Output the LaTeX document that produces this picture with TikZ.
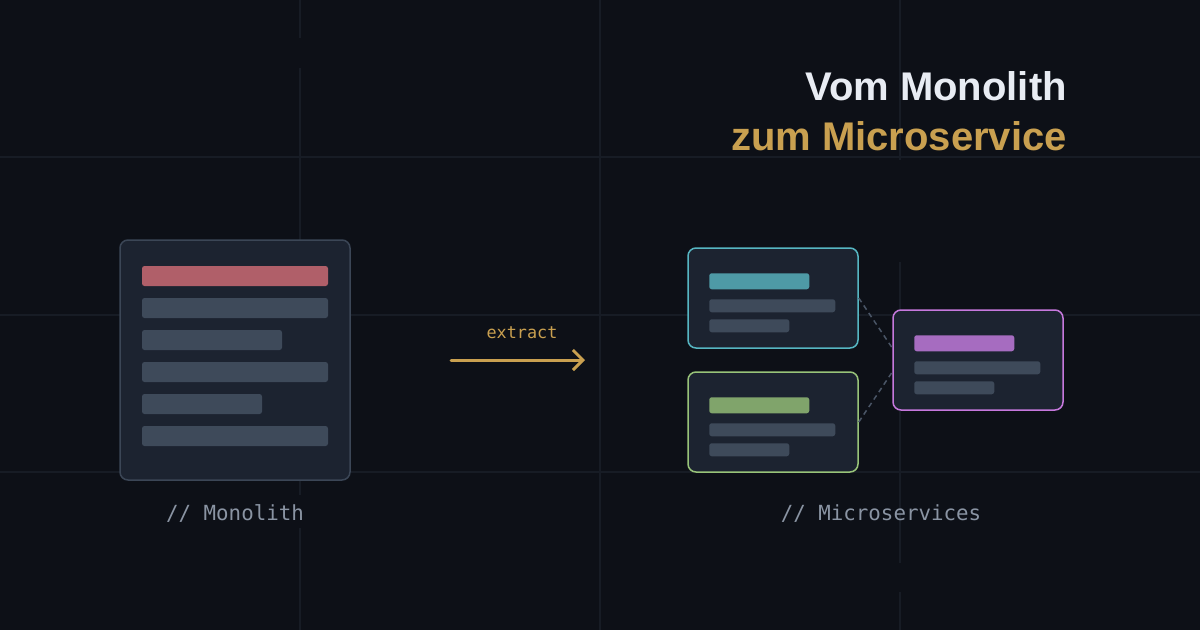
\documentclass[tikz,border=0pt]{standalone}
\usepackage{fontspec}
\setmainfont{Liberation Sans}
\setmonofont{DejaVu Sans Mono}
\usetikzlibrary{calc,arrows.meta}

\definecolor{bgdark}{HTML}{0D1017}
\definecolor{gridline}{HTML}{171C25}
\definecolor{panel}{HTML}{1C2330}
\definecolor{panelrim}{HTML}{3B4656}
\definecolor{bargray}{HTML}{3E4A5A}
\definecolor{barred}{HTML}{B05F69}
\definecolor{tealrim}{HTML}{56B6C2}
\definecolor{tealbar}{HTML}{4E9AA6}
\definecolor{greenrim}{HTML}{98C379}
\definecolor{greenbar}{HTML}{80A46B}
\definecolor{purplerim}{HTML}{C678DD}
\definecolor{purplebar}{HTML}{A66CC0}
\definecolor{gold}{HTML}{C9A050}
\definecolor{titlewhite}{HTML}{E8ECF3}
\definecolor{labelgray}{HTML}{8A94A3}
\definecolor{linkgray}{HTML}{4A5566}

\begin{document}
\begin{tikzpicture}[x=1pt,y=-1pt,
  box/.style={draw,fill=panel,line width=1.5pt,rounded corners=8pt,inner sep=0pt},
  service/.style={box,minimum width=170pt,minimum height=100pt},
  barfill/.style={fill=#1,rounded corners=2.5pt},
  caption/.style={font=\ttfamily\fontsize{20.8}{24}\selectfont,text=labelgray,anchor=base},
  link/.style={draw=linkgray,line width=1.5pt,dash pattern=on 5pt off 4pt}]
\useasboundingbox (0,0) rectangle (1200,630);
\fill[bgdark] (0,0) rectangle (1200,630);

% grid
\begin{scope}[draw=gridline,line width=1.5pt]
\draw (0,157) -- (1200,157);
\draw (0,315) -- (1200,315);
\draw (0,472) -- (1200,472);
\draw (600,0) -- (600,630);
\draw (300,0) -- (300,38) (300,68) -- (300,495) (300,528) -- (300,630);
\draw (900,0) -- (900,160) (900,262) -- (900,563) (900,592) -- (900,630);
\end{scope}

% title
\node[anchor=base east,font=\bfseries\fontsize{40}{48}\selectfont,text=titlewhite,inner sep=0pt] (title) at (1067,100) {Vom Monolith};
\node[anchor=base east,font=\bfseries\fontsize{40}{48}\selectfont,text=gold,inner sep=0pt] (subtitle) at (1067,150) {zum Microservice};

% monolith
\node[box,draw=panelrim,minimum width=230pt,minimum height=240pt] (mono) at (235,360) {};
\fill[barfill=barred] (142,266) rectangle (328,286);
\foreach \y/\xe in {298/328,330/282,362/328,394/262,426/328}
  \fill[barfill=bargray] (142,\y) rectangle (\xe,\y+20);
\node[caption] (monolabel) at (235,520) {// Monolith};

% extract arrow
\coordinate (from) at (451,360);
\coordinate (to) at (585,360);
\draw[gold,line width=3pt,line cap=round,-{Straight Barb[length=10pt,width=20pt,line width=3pt]}] (from) -- (to);
\node[font=\ttfamily\fontsize{16.8}{20}\selectfont,text=gold,anchor=base] (extract) at (522,338) {extract};

% services
\node[service,draw=tealrim] (auth) at (773,298) {};
\node[service,draw=greenrim] (orders) at (773,422) {};
\node[service,draw=purplerim] (billing) at (978,360) {};
\foreach \n/\c in {auth/tealbar,orders/greenbar,billing/purplebar}{
  \fill[barfill=\c] ($(\n.north west)+(22,26)$) rectangle +(100,16);
  \fill[barfill=bargray] ($(\n.north west)+(22,52)$) rectangle +(126,13);
  \fill[barfill=bargray] ($(\n.north west)+(22,72)$) rectangle +(80,13);
}
\draw[link] (auth.east) -- ($(billing.west)+(0,-12)$);
\draw[link] (orders.east) -- ($(billing.west)+(0,12)$);
\node[caption] (servlabel) at (881,520) {// Microservices};
\end{tikzpicture}
\end{document}
